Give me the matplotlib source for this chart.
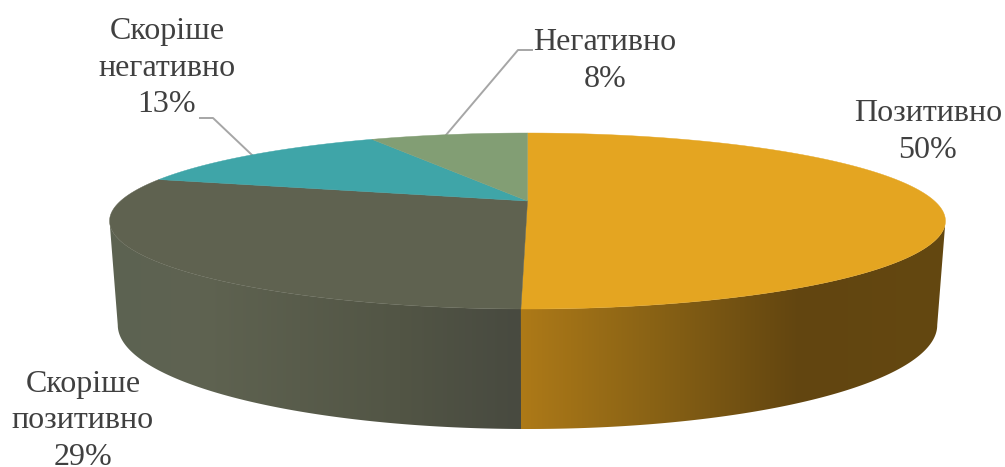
import numpy as np
import matplotlib
matplotlib.use('Agg')
import matplotlib.pyplot as plt
from matplotlib.colors import LinearSegmentedColormap
from matplotlib.patches import Polygon

# slice shares (percent), labels round them
labels = ['Позитивно', 'Скоріше\nпозитивно', 'Скоріше\nнегативно', 'Негативно']
values = [50.2, 29.2, 13.0, 7.6]
top_colors = ['#E4A521', '#5F6250', '#3FA5A8', '#829E74']

# where the labels sit
label_pos = [(928, 132), (83, 421), (167, 68), (605, 61)]

plt.rcParams['font.family'] = ['Liberation Serif', 'DejaVu Serif']

fig = plt.figure(figsize=(10.05, 4.67), dpi=100)
ax = fig.add_axes([0, 0, 1, 1])
ax.set_xlim(0, 1005)
ax.set_ylim(467, 0)
ax.axis('off')

K = 0.2273


# perspective view of a flat disc, K is the foreshortening
def disc(theta, cx, y0, a, b):
    x = np.sin(theta)
    y = np.cos(theta)
    w = 1 + K * y
    return cx + a * x / w, y0 - b * y / w


def top_disc(theta):
    return disc(theta, 527.5, 201, 407, 83.45)


def low_disc(theta):
    return disc(theta, 527.5, 301.4, 399, 98.6)


edges = np.radians(np.cumsum([0] + values) * 3.6)
# the wall only shows between the widest points of the disc
widest = np.arccos(-K)

# side walls of the two front slices, shaded left to right
side_shades = [
    (1, [(110, '#5C6252'), (200, '#5F6351'), (400, '#525545'), (520, '#484A40'), (535, '#484A40')]),
    (0, [(519, '#AE7A18'), (650, '#8A6315'), (800, '#624510'), (945, '#644811')]),
]
for i, shade in side_shades:
    if i == 0:
        th = np.linspace(widest, edges[1], 200)
    else:
        th = np.linspace(edges[1] - 0.01, 2 * np.pi - widest, 200)
    x1, y1 = top_disc(th)
    x2, y2 = low_disc(th)
    pts = np.column_stack([np.r_[x1, x2[::-1]], np.r_[y1, y2[::-1]]])
    lo, hi = shade[0][0], shade[-1][0]
    stops = [((p - lo) / (hi - lo), c) for p, c in shade]
    cmap = LinearSegmentedColormap.from_list('side', stops)
    grad = np.linspace(0, 1, 256).reshape(1, -1)
    poly = Polygon(pts, closed=True, transform=ax.transData, fc='none', ec='none')
    ax.add_patch(poly)
    # orange wall goes over the grey one
    im = ax.imshow(grad, cmap=cmap, extent=(lo, hi, 467, 0), aspect='auto', zorder=2.1 - i * 0.1)
    im.set_clip_path(poly)
ax.set_xlim(0, 1005)
ax.set_ylim(467, 0)

# top faces
for i, c in enumerate(top_colors):
    th = np.linspace(edges[i], edges[i + 1], 200)
    x, y = top_disc(th)
    ax.fill(np.r_[527.5, x], np.r_[201, y], color=c, lw=0.3, zorder=3)

# leader lines
ax.plot([446, 518, 532], [135, 50, 50], color='#A6A6A6', lw=1.4, zorder=1)
ax.plot([252, 213, 200], [155, 118, 118], color='#A6A6A6', lw=1.4, zorder=1)

for name, v, (lx, ly) in zip(labels, values, label_pos):
    ax.text(lx, ly, f'{name}\n{v:.0f}%', ha='center', va='center', fontsize=23,
            color='#404040', linespacing=1.36, zorder=4)

fig.savefig('out.png', dpi=100)
